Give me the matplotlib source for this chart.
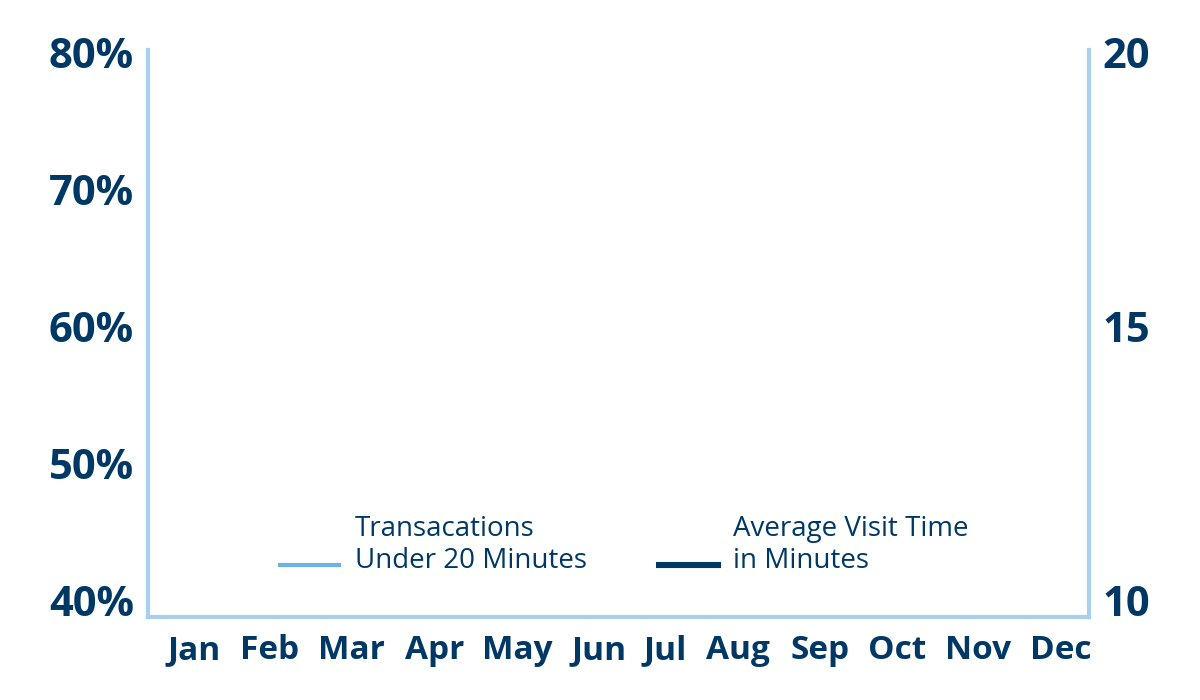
import matplotlib
matplotlib.use("Agg")
import matplotlib.pyplot as plt
import matplotlib.transforms as mtransforms
from matplotlib.lines import Line2D
import numpy as np

months = ["Jan", "Feb", "Mar", "Apr", "May", "Jun", "Jul", "Aug", "Sep", "Oct", "Nov", "Dec"]
# The reference shows no plotted values: both series are empty (missing)
transactions_under_20 = [None] * 12   # percent
avg_visit_time = [None] * 12          # minutes
left_ticks = [40, 50, 60, 70, 80]
left_tick_labels = ["40%", "50%", "60%", "70%", "80%"]
right_ticks = [10, 15, 20]
right_tick_labels = ["10", "15", "20"]
series_labels = ["Transacations\nUnder 20 Minutes", "Average Visit Time\nin Minutes"]

NAVY = "#003865"
LIGHT = "#6db3e2"
SPINE = "#a9cfef"
W, H = 1200, 700

plt.rcParams['font.family'] = ['Open Sans', 'DejaVu Sans']

fig = plt.figure(figsize=(12, 7), dpi=100)
ax = fig.add_axes([148 / W, 1 - 617 / H, (1089 - 148) / W, (617 - 50) / H])
ax2 = ax.twinx()

x = np.arange(len(months))
y1 = np.array([np.nan if v is None else v for v in transactions_under_20], dtype=float)
y2 = np.array([np.nan if v is None else v for v in avg_visit_time], dtype=float)
l1, = ax.plot(x, y1, color=LIGHT, lw=3.0, label=series_labels[0])
l2, = ax2.plot(x, y2, color=NAVY, lw=4.4, label=series_labels[1])

ax.set_xlim(-0.584, 11.355)
ax.set_ylim(38.76, 80.15)
ax2.set_ylim(9.69, 20.04)

ax.set_xticks(x)
ax.set_xticklabels(months, fontsize=24, fontweight='bold', color=NAVY)
ax.set_yticks(left_ticks)
ax.set_yticklabels(left_tick_labels, fontsize=30, fontweight='bold', color=NAVY)
ax2.set_yticks(right_ticks)
ax2.set_yticklabels(right_tick_labels, fontsize=30, fontweight='bold', color=NAVY)

ax.tick_params(axis='x', length=0, pad=12)
ax.tick_params(axis='y', length=0, pad=10)
ax2.tick_params(axis='y', length=0, pad=10)

# month labels are laid out with even gaps between words (small pixel nudges)
label_nudge_px = [0, -3, 0, 4, 8, 11, -2, -8, -5, -6, -4, 0]
for lab, dx in zip(ax.get_xticklabels(), label_nudge_px):
    lab.set_transform(lab.get_transform() + mtransforms.ScaledTranslation(dx / 100, 0, fig.dpi_scale_trans))

for a in (ax, ax2):
    for s in a.spines.values():
        s.set_visible(False)
for side in ("left", "bottom"):
    ax.spines[side].set_visible(True)
    ax.spines[side].set_color(SPINE)
    ax.spines[side].set_linewidth(3)
ax2.spines["right"].set_visible(True)
ax2.spines["right"].set_color(SPINE)
ax2.spines["right"].set_linewidth(3)

# legend (handle sits on the second line of each two-line label)
leg_items = [(l1, 278, 341, 564.5, 355), (l2, 656, 721, 565, 733)]
for line, hx0, hx1, hy, tx in leg_items:
    fig.add_artist(Line2D([hx0 / W, hx1 / W], [1 - hy / H, 1 - hy / H],
                          transform=fig.transFigure, color=line.get_color(),
                          lw=line.get_linewidth(), solid_capstyle='butt'))
    fig.text(tx / W, 1 - 568 / H, line.get_label(), ha='left', va='baseline',
             fontsize=20, color=NAVY, linespacing=1.2,
             family=['Open Sans', 'DejaVu Sans'])

fig.savefig("out.png", dpi=100, facecolor="white")
